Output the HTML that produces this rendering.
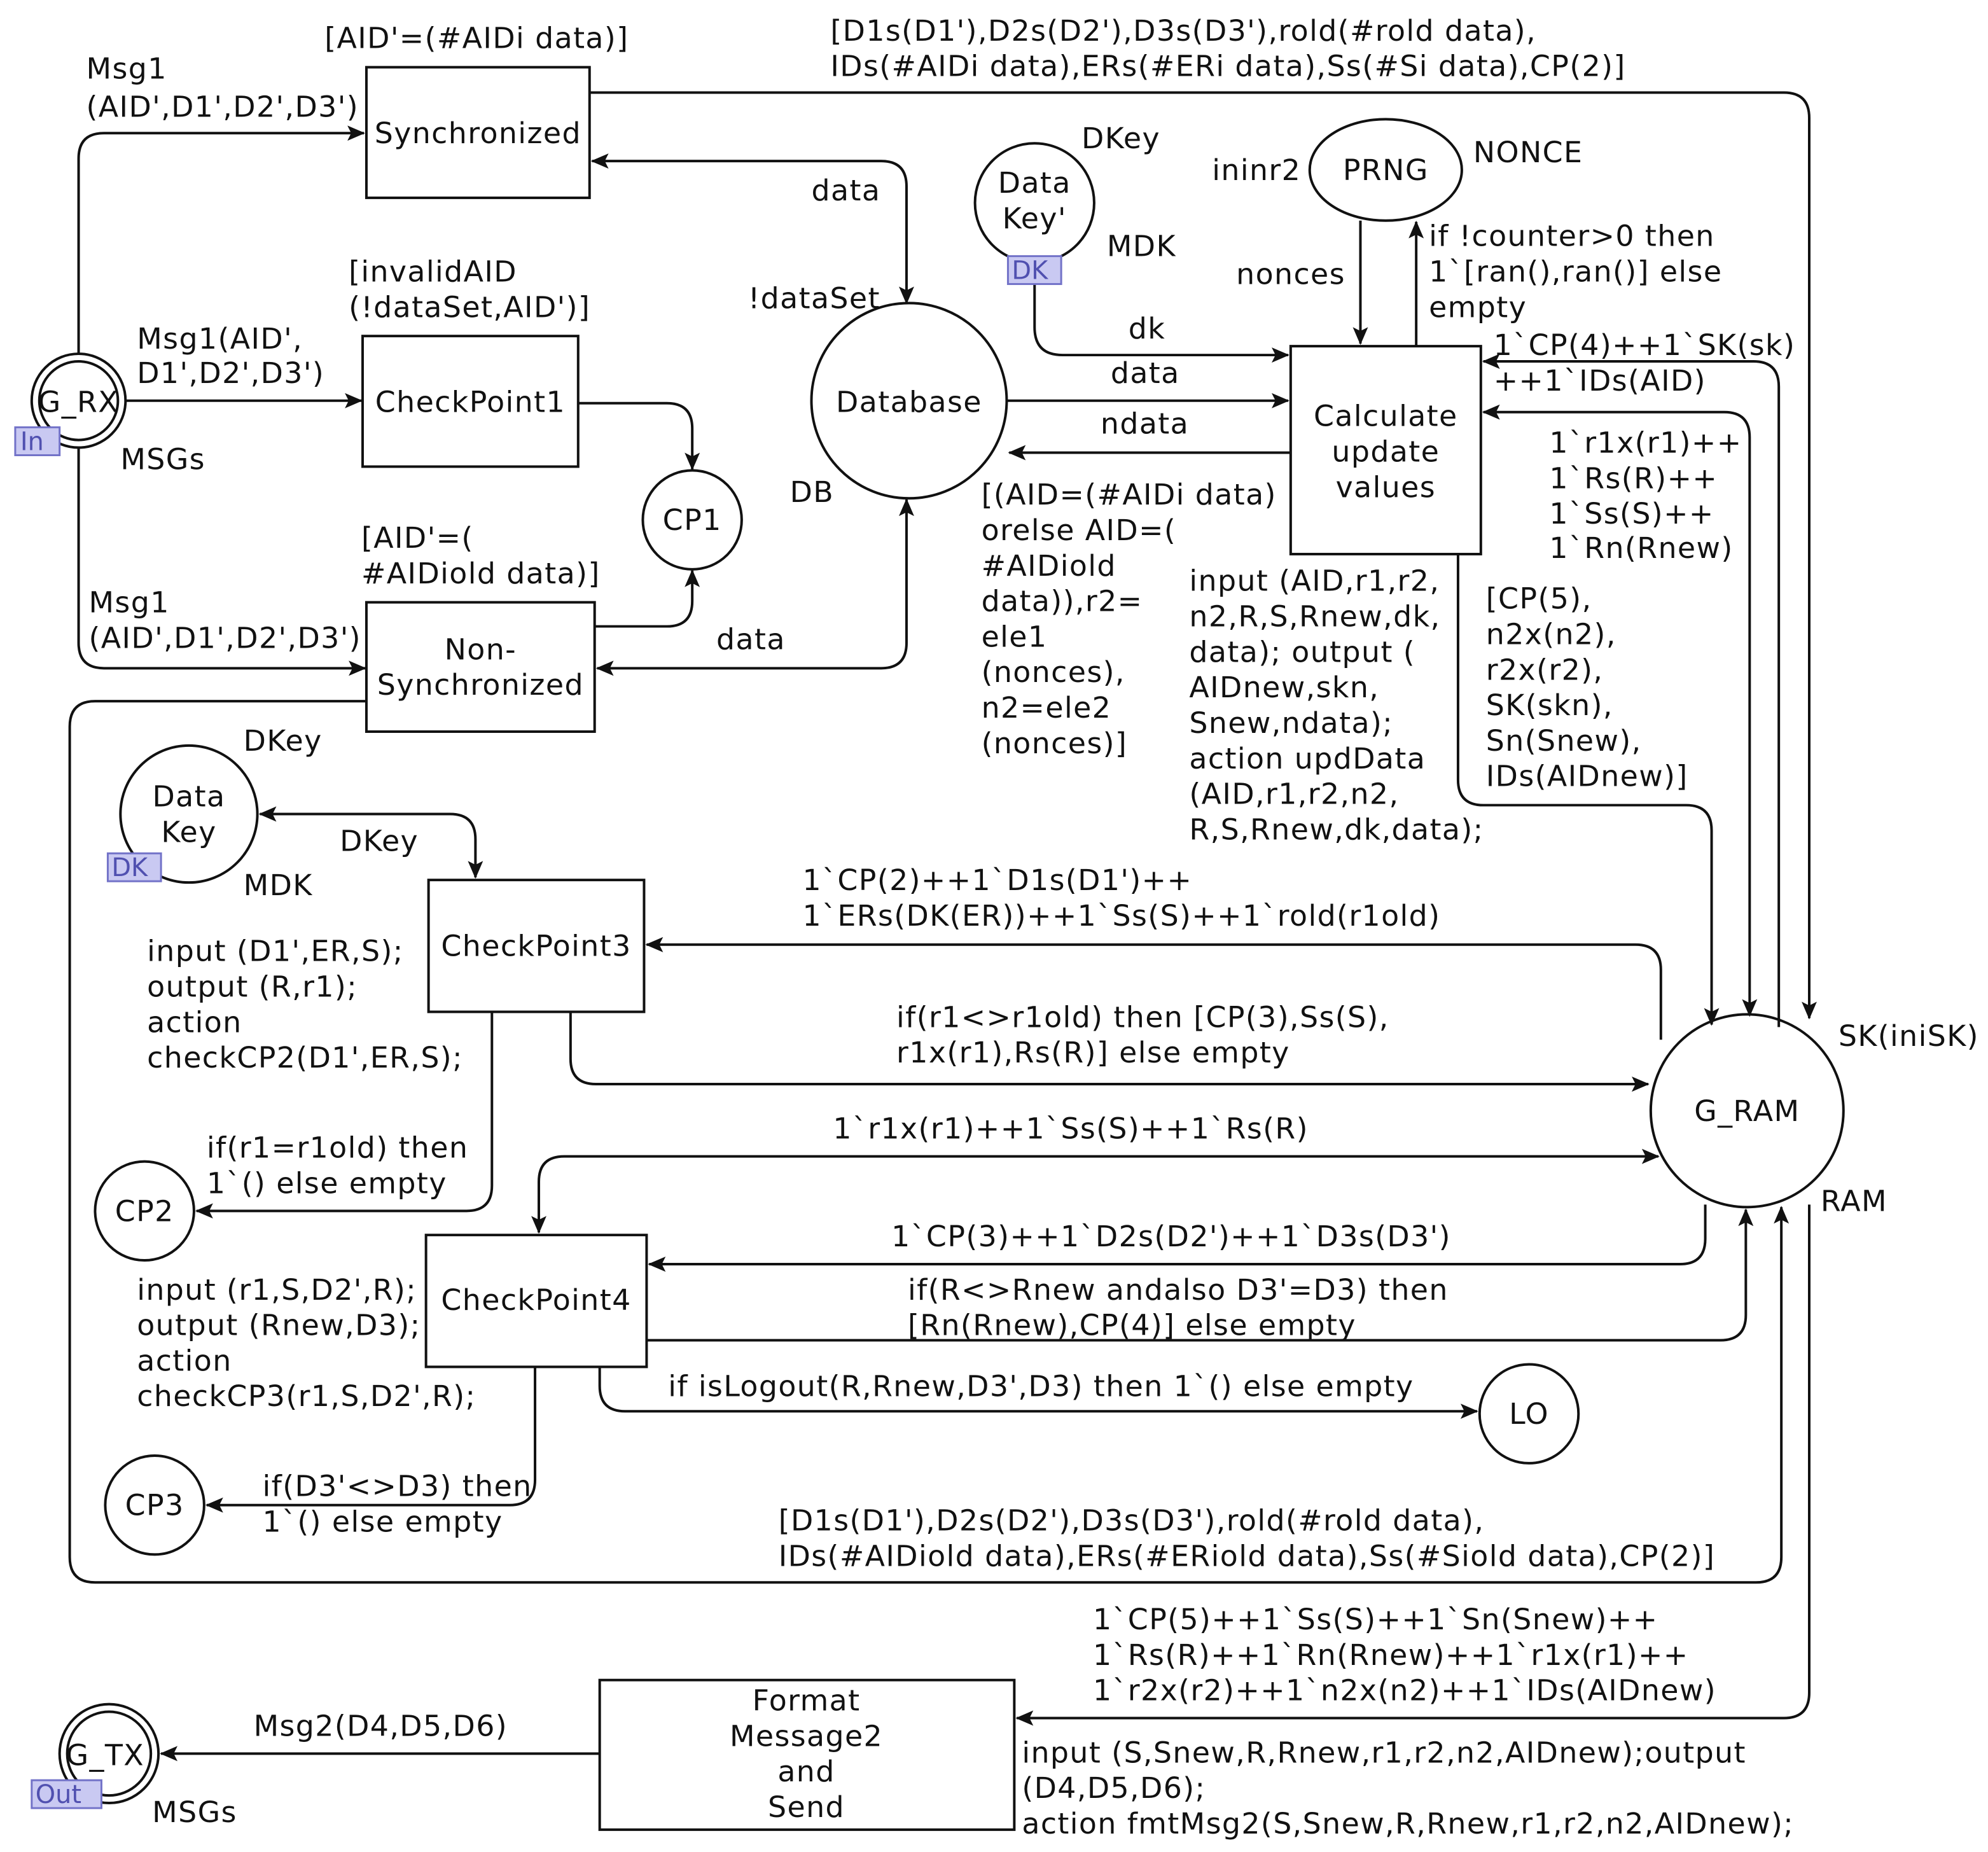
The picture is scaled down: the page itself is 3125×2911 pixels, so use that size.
<!DOCTYPE html>
<html><head><meta charset="utf-8"><style>
html,body{margin:0;padding:0;background:#fff}
svg{display:block}
text{font-family:"DejaVu Sans","Liberation Sans",sans-serif;font-size:23px;letter-spacing:0.7px;fill:#111}
.c{text-anchor:middle}
.s{fill:none;stroke:#111;stroke-width:2}
.tag{fill:#c9c9f2;stroke:#7272c8;stroke-width:1.5}
.tt{fill:#5050b0;font-size:20px;letter-spacing:0}
</style></head><body>
<svg width="3125" height="2911" viewBox="0 0 1568 1460.6" xmlns="http://www.w3.org/2000/svg">
<defs>
<marker id="a" viewBox="0 0 14 12" refX="13" refY="6" markerWidth="14" markerHeight="12" markerUnits="userSpaceOnUse" orient="auto-start-reverse"><path d="M0,0 L14,6 L0,12 L3,6 Z" fill="#111"/></marker>
</defs>
<rect width="1568" height="1461" fill="#fff"/>
<g class="s">
<rect x="289" y="53" width="176" height="103"/>
<rect x="286" y="265" width="170" height="103"/>
<rect x="289" y="475" width="180" height="102"/>
<rect x="1018" y="273" width="150" height="164"/>
<rect x="338" y="694" width="170" height="104"/>
<rect x="336" y="974" width="174" height="104"/>
<rect x="473" y="1325" width="327" height="118"/>
<circle cx="62" cy="316" r="37"/><circle cx="62" cy="316" r="31"/>
<circle cx="717" cy="316" r="77"/>
<circle cx="546" cy="410" r="39"/>
<circle cx="816" cy="160" r="47"/>
<ellipse cx="1093" cy="134" rx="60" ry="40"/>
<circle cx="149" cy="642" r="54"/>
<circle cx="114" cy="955" r="39"/>
<circle cx="122" cy="1187" r="39"/>
<circle cx="1378" cy="876" r="76"/>
<circle cx="1206" cy="1115" r="39"/>
<circle cx="86" cy="1383" r="39"/><circle cx="86" cy="1383" r="33"/>
</g>
<g class="s">
<path d="M62,279 V125 Q62,105 82,105 H287" marker-end="url(#a)"/>
<path d="M99,316 H285" marker-end="url(#a)"/>
<path d="M62,353 V507 Q62,527 82,527 H288" marker-end="url(#a)"/>
<path d="M467,127 H695 Q715,127 715,147 V239" marker-start="url(#a)" marker-end="url(#a)"/>
<path d="M456,318 H526 Q546,318 546,338 V370" marker-end="url(#a)"/>
<path d="M469,494 H526 Q546,494 546,474 V450" marker-end="url(#a)"/>
<path d="M471,527 H695 Q715,527 715,507 V394" marker-start="url(#a)" marker-end="url(#a)"/>
<path d="M794,316 H1016" marker-end="url(#a)"/>
<path d="M1018,357 H796" marker-end="url(#a)"/>
<path d="M816,207 V258 Q816,280 838,280 H1016" marker-start="url(#a)" marker-end="url(#a)"/>
<path d="M1073,174 V271" marker-end="url(#a)"/>
<path d="M1117,273 V175" marker-end="url(#a)"/>
<path d="M465,73 H1407 Q1427,73 1427,93 V803" marker-end="url(#a)"/>
<path d="M1403,810 V305 Q1403,285 1383,285 H1170" marker-end="url(#a)"/>
<path d="M1170,325 H1360 Q1380,325 1380,345 V801" marker-start="url(#a)" marker-end="url(#a)"/>
<path d="M1150,437 V615 Q1150,635 1170,635 H1330 Q1350,635 1350,655 V808" marker-end="url(#a)"/>
<path d="M1310,820 V765 Q1310,745 1290,745 H510" marker-end="url(#a)"/>
<path d="M450,798 V835 Q450,855 470,855 H1300" marker-end="url(#a)"/>
<path d="M1308,912 H445 Q425,912 425,932 V972" marker-start="url(#a)" marker-end="url(#a)"/>
<path d="M1345,950 V977 Q1345,997 1325,997 H512" marker-end="url(#a)"/>
<path d="M510,1057 H1357 Q1377,1057 1377,1037 V954" marker-end="url(#a)"/>
<path d="M473,1078 V1093 Q473,1113 493,1113 H1165" marker-end="url(#a)"/>
<path d="M422,1078 V1167 Q422,1187 402,1187 H163" marker-end="url(#a)"/>
<path d="M388,798 V935 Q388,955 368,955 H155" marker-end="url(#a)"/>
<path d="M205,642 H355 Q375,642 375,662 V692" marker-start="url(#a)" marker-end="url(#a)"/>
<path d="M289,553 H75 Q55,553 55,573 V1228 Q55,1248 75,1248 H1385 Q1405,1248 1405,1228 V952" marker-end="url(#a)"/>
<path d="M1427,950 V1335 Q1427,1355 1407,1355 H802" marker-end="url(#a)"/>
<path d="M473,1383 H127" marker-end="url(#a)"/>
</g>
<rect class="tag" x="12" y="337" width="35" height="22"/><text class="tt" x="16" y="355">In</text>
<rect class="tag" x="795" y="202" width="42" height="22"/><text class="tt" x="798" y="220">DK</text>
<rect class="tag" x="85" y="673" width="42" height="22"/><text class="tt" x="88" y="691">DK</text>
<rect class="tag" x="25" y="1404" width="55" height="22"/><text class="tt" x="28" y="1422">Out</text>
<text class="c" x="377" y="113">Synchronized</text>
<text class="c" x="371" y="325">CheckPoint1</text>
<text class="c" x="379" y="520">Non-</text><text class="c" x="379" y="548">Synchronized</text>
<text class="c" x="1093" y="336">Calculate</text><text class="c" x="1093" y="364">update</text><text class="c" x="1093" y="392">values</text>
<text class="c" x="423" y="754">CheckPoint3</text>
<text class="c" x="423" y="1033">CheckPoint4</text>
<text class="c" x="636" y="1349">Format</text><text class="c" x="636" y="1377">Message2</text><text class="c" x="636" y="1405">and</text><text class="c" x="636" y="1433">Send</text>
<text x="30" y="325">G_RX</text>
<text class="c" x="717" y="325">Database</text>
<text class="c" x="546" y="418">CP1</text>
<text class="c" x="816" y="152">Data</text><text class="c" x="816" y="180">Key'</text>
<text class="c" x="1093" y="142">PRNG</text>
<text class="c" x="149" y="636">Data</text><text class="c" x="149" y="664">Key</text>
<text class="c" x="114" y="963">CP2</text>
<text class="c" x="122" y="1195">CP3</text>
<text class="c" x="1378" y="884">G_RAM</text>
<text class="c" x="1206" y="1123">LO</text>
<text x="52" y="1392">G_TX</text>
<text x="256" y="38">[AID'=(#AIDi data)]</text>
<text x="68" y="62">Msg1</text><text x="68" y="92">(AID',D1',D2',D3')</text>
<text x="655" y="32">[D1s(D1'),D2s(D2'),D3s(D3'),rold(#rold data),</text>
<text x="655" y="60">IDs(#AIDi data),ERs(#ERi data),Ss(#Si data),CP(2)]</text>
<text x="640" y="158">data</text>
<text x="853" y="117">DKey</text><text x="873" y="202">MDK</text>
<text x="956" y="142">ininr2</text><text x="1162" y="128">NONCE</text>
<text x="975" y="224">nonces</text>
<text x="1127" y="194">if !counter&gt;0 then</text><text x="1127" y="222">1`[ran(),ran()] else</text><text x="1127" y="250">empty</text>
<text x="275" y="222">[invalidAID</text><text x="275" y="250">(!dataSet,AID')]</text>
<text x="590" y="243">!dataSet</text>
<text x="108" y="275">Msg1(AID',</text><text x="108" y="302">D1',D2',D3')</text>
<text x="95" y="370">MSGs</text>
<text x="890" y="267">dk</text><text x="876" y="302">data</text><text x="868" y="342">ndata</text>
<text x="1178" y="280">1`CP(4)++1`SK(sk)</text><text x="1178" y="308">++1`IDs(AID)</text>
<text x="1222" y="357">1`r1x(r1)++</text><text x="1222" y="385">1`Rs(R)++</text><text x="1222" y="413">1`Ss(S)++</text><text x="1222" y="440">1`Rn(Rnew)</text>
<text x="623" y="396">DB</text>
<text x="774" y="398">[(AID=(#AIDi data)</text><text x="774" y="426">orelse AID=(</text><text x="774" y="454">#AIDiold</text><text x="774" y="482">data)),r2=</text><text x="774" y="510">ele1</text><text x="774" y="538">(nonces),</text><text x="774" y="566">n2=ele2</text><text x="774" y="594">(nonces)]</text>
<text x="938" y="466">input (AID,r1,r2,</text><text x="938" y="494">n2,R,S,Rnew,dk,</text><text x="938" y="522">data); output (</text><text x="938" y="550">AIDnew,skn,</text><text x="938" y="578">Snew,ndata);</text><text x="938" y="606">action updData</text><text x="938" y="634">(AID,r1,r2,n2,</text><text x="938" y="662">R,S,Rnew,dk,data);</text>
<text x="1172" y="480">[CP(5),</text><text x="1172" y="508">n2x(n2),</text><text x="1172" y="536">r2x(r2),</text><text x="1172" y="564">SK(skn),</text><text x="1172" y="592">Sn(Snew),</text><text x="1172" y="620">IDs(AIDnew)]</text>
<text x="285" y="432">[AID'=(</text><text x="285" y="460">#AIDiold data)]</text>
<text x="70" y="483">Msg1</text><text x="70" y="511">(AID',D1',D2',D3')</text>
<text x="565" y="512">data</text>
<text x="192" y="592">DKey</text><text x="268" y="671">DKey</text><text x="192" y="706">MDK</text>
<text x="633" y="702">1`CP(2)++1`D1s(D1')++</text><text x="633" y="730">1`ERs(DK(ER))++1`Ss(S)++1`rold(r1old)</text>
<text x="116" y="758">input (D1',ER,S);</text><text x="116" y="786">output (R,r1);</text><text x="116" y="814">action</text><text x="116" y="842">checkCP2(D1',ER,S);</text>
<text x="707" y="810">if(r1&lt;&gt;r1old) then [CP(3),Ss(S),</text><text x="707" y="838">r1x(r1),Rs(R)] else empty</text>
<text x="1450" y="825">SK(iniSK)</text>
<text x="163" y="913">if(r1=r1old) then</text><text x="163" y="941">1`() else empty</text>
<text x="657" y="898">1`r1x(r1)++1`Ss(S)++1`Rs(R)</text>
<text x="1436" y="955">RAM</text>
<text x="703" y="983">1`CP(3)++1`D2s(D2')++1`D3s(D3')</text>
<text x="108" y="1025">input (r1,S,D2',R);</text><text x="108" y="1053">output (Rnew,D3);</text><text x="108" y="1081">action</text><text x="108" y="1109">checkCP3(r1,S,D2',R);</text>
<text x="716" y="1025">if(R&lt;&gt;Rnew andalso D3'=D3) then</text><text x="716" y="1053">[Rn(Rnew),CP(4)] else empty</text>
<text x="527" y="1101">if isLogout(R,Rnew,D3',D3) then 1`() else empty</text>
<text x="207" y="1180">if(D3'&lt;&gt;D3) then</text><text x="207" y="1208">1`() else empty</text>
<text x="614" y="1207">[D1s(D1'),D2s(D2'),D3s(D3'),rold(#rold data),</text>
<text x="614" y="1235">IDs(#AIDiold data),ERs(#ERiold data),Ss(#Siold data),CP(2)]</text>
<text x="862" y="1285">1`CP(5)++1`Ss(S)++1`Sn(Snew)++</text><text x="862" y="1313">1`Rs(R)++1`Rn(Rnew)++1`r1x(r1)++</text><text x="862" y="1341">1`r2x(r2)++1`n2x(n2)++1`IDs(AIDnew)</text>
<text x="200" y="1369">Msg2(D4,D5,D6)</text>
<text x="120" y="1437">MSGs</text>
<text x="806" y="1390">input (S,Snew,R,Rnew,r1,r2,n2,AIDnew);output</text><text x="806" y="1418">(D4,D5,D6);</text><text x="806" y="1446">action fmtMsg2(S,Snew,R,Rnew,r1,r2,n2,AIDnew);</text>
</svg>
</body></html>
